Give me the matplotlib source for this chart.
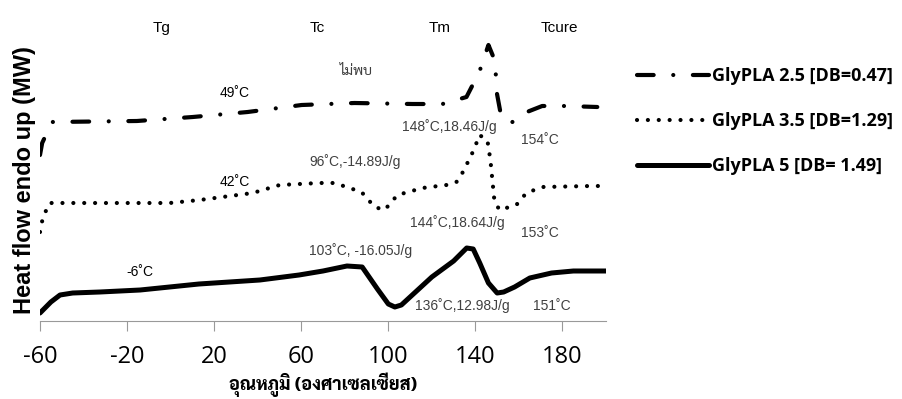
import numpy as np
import matplotlib
matplotlib.use("Agg")
import matplotlib.pyplot as plt

plt.rcParams["axes.unicode_minus"] = False

# temperature (C) and heat flow (arbitrary, endo up)
t_25 = [-60, -59, -54.5, -15.5, 10.2, 35.4, 60.2, 84.5, 111.1, 124.9, 135.9,
        141.8, 146, 149.2, 149.6, 151.9, 153.8, 157, 162.5, 170.7, 181.7, 196]
hf_25 = [16.6, 17.8, 19.9, 20.0, 20.4, 20.9, 21.6, 21.8, 21.7, 21.7, 22.4,
         24.9, 27.6, 25.9, 23.1, 20.4, 20.0, 19.9, 20.8, 21.5, 21.5, 21.4]

t_35 = [-60, -59, -56.3, -55.4, -0.4, 13.4, 37.7, 50.1, 68.4, 75.3, 87.7, 90.5,
        93.7, 98.3, 104.2, 115.7, 126.7, 131.3, 134, 138.2, 140.5, 141.8, 145.5,
        146.9, 147.8, 148.7, 151, 158.8, 163.4, 170.7, 193.2, 196.9]
hf_35 = [8.9, 10.0, 11.6, 11.8, 11.8, 12.1, 12.8, 13.6, 13.8, 13.8, 12.9, 12.2,
         11.4, 11.1, 12.6, 13.3, 13.6, 13.9, 14.8, 16.6, 17.8, 18.6, 18.1,
         16.1, 14.1, 12.1, 11.1, 11.6, 12.8, 13.4, 13.5, 13.5]

t_5 = [-60, -55, -50.8, -45, -32.5, -14, 13, 41, 59, 70, 81, 88, 95, 100, 103,
       106, 110, 120, 130, 136, 139, 142, 146, 150, 153, 158, 165, 175, 185, 200]
hf_5 = [0.8, 1.9, 2.6, 2.8, 2.9, 3.1, 3.7, 4.1, 4.6, 5.0, 5.5, 5.4, 3.2, 1.7,
        1.4, 1.6, 2.4, 4.4, 6.0, 7.3, 7.2, 5.8, 3.8, 2.8, 2.9, 3.4, 4.3, 4.8,
        5.0, 5.0]

labels = ["GlyPLA 2.5 [DB=0.47]", "GlyPLA 3.5 [DB=1.29]", "GlyPLA 5 [DB= 1.49]"]
xticks = [-60, -20, 20, 60, 100, 140, 180]
top_labels = ["Tg", "Tc", "Tm", "Tcure"]
top_x = [-4, 67.5, 123.5, 178.5]

thai = ["Sarabun", "Noto Sans Thai Looped", "DejaVu Sans"]

fig = plt.figure(figsize=(9.03, 3.99), dpi=100)
ax = fig.add_axes([40 / 903, 78 / 399, 566 / 903, 281 / 399])

ax.plot(t_25, hf_25, color="black", lw=3, dash_capstyle="round",
        linestyle=(0, (4.0, 4.7, 0.01, 4.7)), label=labels[0])
ax.plot(t_35, hf_35, color="black", lw=3, dash_capstyle="round",
        linestyle=(0, (0.01, 2.6)), label=labels[1])
ax.plot(t_5, hf_5, color="black", lw=3.6, solid_capstyle="round",
        label=labels[2])

ax.set_xlim(-60, 200)
ax.set_ylim(0, 28.1)
ax.set_xticks(xticks)
ax.set_yticks([])
for s in ["left", "top", "right"]:
    ax.spines[s].set_visible(False)
ax.spines["bottom"].set_color("#999999")
ax.tick_params(axis="x", length=7, color="#999999", labelsize=17, pad=10)
for lb in ax.get_xticklabels():
    lb.set_family("Open Sans")

ax.set_ylabel("Heat flow endo up (MW)", fontsize=17, fontweight="bold",
              family="Liberation Sans", labelpad=3)
ax.set_xlabel("อุณหภูมิ (องศาเซลเซียส)", fontsize=13, fontweight="heavy",
              family=thai, labelpad=3)

for s, x in zip(top_labels, top_x):
    ax.text(x, 29.3, s, ha="center", va="center", fontsize=11,
            family="Liberation Sans", clip_on=False)

notes = [
    (29.4, 22.8, "49˚C", "black"),
    (85.4, 25.0, "ไม่พบ", "#404040"),
    (128, 19.4, "148˚C,18.46J/g", "#404040"),
    (169.4, 18.1, "154˚C", "#404040"),
    (29.4, 13.9, "42˚C", "black"),
    (84.5, 15.9, "96˚C,-14.89J/g", "#404040"),
    (131.7, 9.8, "144˚C,18.64J/g", "#404040"),
    (169.4, 8.8, "153˚C", "#404040"),
    (-14.1, 4.9, "-6˚C", "black"),
    (87.2, 7.0, "103˚C, -16.05J/g", "#404040"),
    (134, 1.5, "136˚C,12.98J/g", "#404040"),
    (175, 1.5, "151˚C", "#404040"),
]
for x, y, s, c in notes:
    ax.text(x, y, s, ha="center", va="center", fontsize=10, color=c,
            family=["Liberation Sans"] + thai)

fig.legend(loc="upper left", bbox_to_anchor=(630 / 903, 1 - 60 / 399),
           frameon=False, handlelength=4.0, handletextpad=0.15,
           labelspacing=1.5, borderaxespad=0,
           prop={"family": "Open Sans", "weight": "bold", "size": 13})

fig.savefig("out.png", dpi=100)
